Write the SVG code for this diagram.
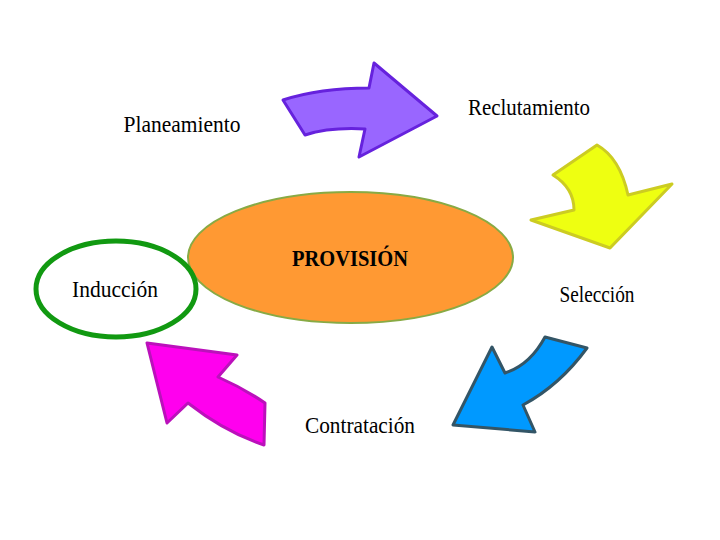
<svg xmlns="http://www.w3.org/2000/svg" width="720" height="540" viewBox="0 0 720 540">
<style>
.lbl{font-family:"Liberation Serif","DejaVu Serif",serif;font-size:24px;fill:#000;text-anchor:middle}
.bold{font-weight:bold;font-size:24px}
.arr{stroke-width:3;stroke-linejoin:round}
</style>
<rect width="720" height="540" fill="#fff"/>
<g id="connectors">
<path class="arr" d="M283,100 Q320,88 369,88 L374,63 L437,116 L359,157 L365,129 Q330,127 305,135 Z" fill="#9966FF" stroke="#6622DD"/>
<path class="arr" d="M553,175 L597,145 Q620,158 628,195 L672,184 L610,248 L531,220 L574,210 Q574,188 553,175 Z" fill="#EEFF11" stroke="#CCCC22"/>
<path class="arr" d="M545,337 L587,348 Q560,385 523,405 L535,432 L453,425 L492,347 L505,373 Q530,365 545,337 Z" fill="#0099FF" stroke="#335566"/>
<path class="arr" d="M147,343 L237,355 L218,377 Q243,388 265,403 L264,445 Q225,432 188,403 L167,423 Z" fill="#FF00EE" stroke="#BB11BB"/>
</g>
<g id="provision">
<ellipse cx="350.5" cy="257.5" rx="162.5" ry="65.5" fill="#FF9933" stroke="#88AA44" stroke-width="2"/>
<text class="lbl bold" x="350" y="266" textLength="116" lengthAdjust="spacingAndGlyphs">PROVISIÓN</text>
</g>
<g id="induccion">
<ellipse cx="116" cy="289" rx="80" ry="48" fill="#fff" stroke="#119911" stroke-width="5"/>
<text class="lbl" x="115" y="297" textLength="86" lengthAdjust="spacingAndGlyphs">Inducción</text>
</g>
<g id="planeamiento">
<text class="lbl" x="182" y="132" textLength="117" lengthAdjust="spacingAndGlyphs">Planeamiento</text>
</g>
<g id="reclutamiento">
<text class="lbl" x="529" y="115" textLength="122" lengthAdjust="spacingAndGlyphs">Reclutamiento</text>
</g>
<g id="seleccion">
<text class="lbl" x="597" y="302" textLength="75" lengthAdjust="spacingAndGlyphs">Selección</text>
</g>
<g id="contratacion">
<text class="lbl" x="360" y="433" textLength="110" lengthAdjust="spacingAndGlyphs">Contratación</text>
</g>
</svg>
